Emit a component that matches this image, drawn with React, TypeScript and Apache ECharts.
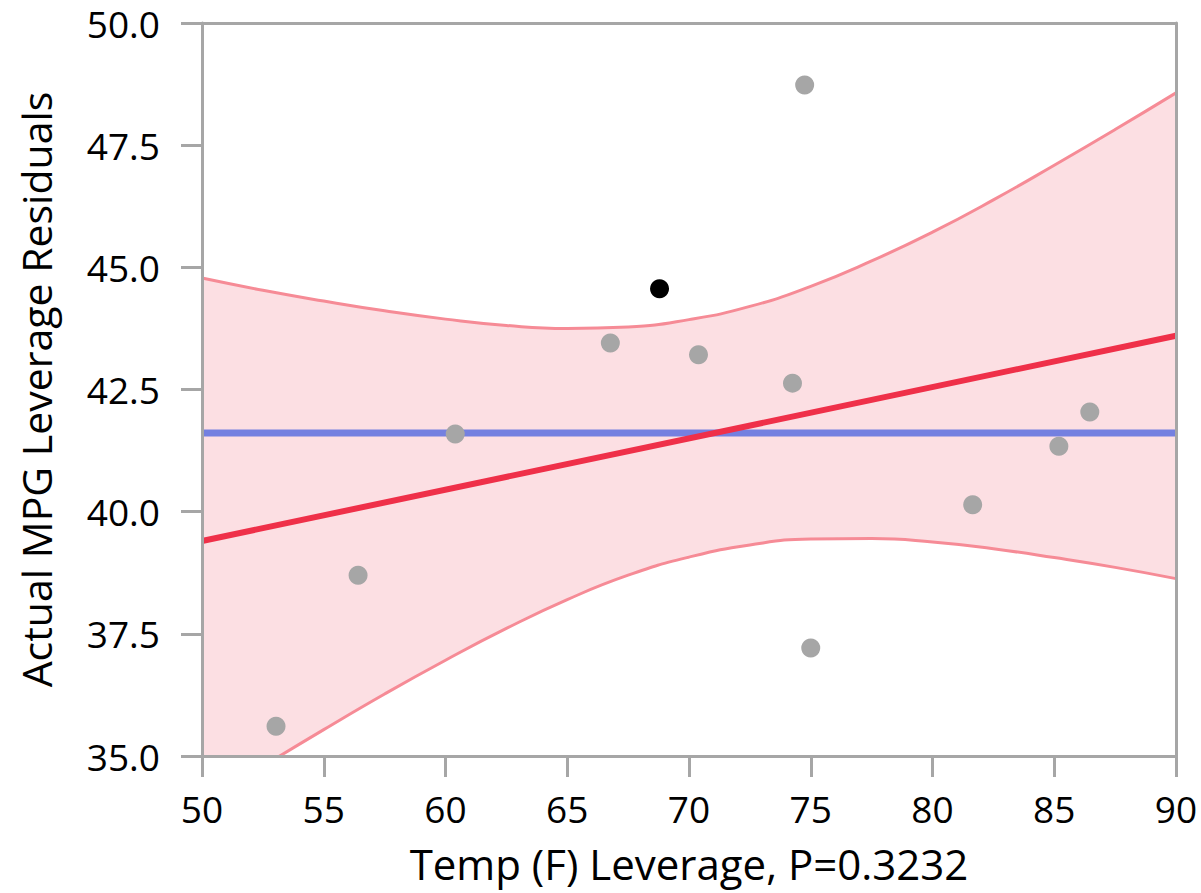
import React, { useEffect, useRef } from "react";
import * as echarts from "echarts";

// Leverage points (x = Temp leverage, y = MPG leverage residuals)
const pointsX = [53.04, 56.41, 60.40, 66.77, 70.39, 74.25, 74.75, 75.0, 81.65, 85.19, 86.46];
const pointsY = [35.61, 38.70, 41.59, 43.45, 43.21, 42.63, 48.73, 37.21, 40.14, 41.34, 42.04];
const highlightX = [68.79];
const highlightY = [44.56];

// Mean line and fit line
const meanY = 41.61;
const fitX = [50, 90];
const fitY = [39.40, 43.60];

// Confidence band readings
const bandX = [50, 52.5, 55, 57.5, 60, 62.5, 65, 67.5, 70, 72.5, 75, 77.5, 80, 82.5, 85, 87.5, 90];
const bandUpper = [44.78, 44.53, 44.31, 44.11, 43.94, 43.81, 43.75, 43.78, 43.93, 44.20, 44.61, 45.13, 45.72, 46.38, 47.09, 47.82, 48.57];
const bandLower = [34.02, 34.79, 35.54, 36.27, 36.96, 37.61, 38.20, 38.70, 39.07, 39.32, 39.44, 39.45, 39.38, 39.24, 39.06, 38.86, 38.63];

const xTicks = [50, 55, 60, 65, 70, 75, 80, 85, 90];
const yTicks = [35, 37.5, 40, 42.5, 45, 47.5, 50];

const xTitle = "Temp (F) Leverage, P=0.3232";
const yTitle = "Actual MPG Leverage Residuals";

export default function App() {
  const ref = useRef<HTMLDivElement>(null);
  useEffect(() => {
    if (!ref.current) return;
    const chart = echarts.init(ref.current, undefined, { renderer: "svg" });
    const font = "'Open Sans', 'Noto Sans', sans-serif";
    const axisColor = "#a6a6a6";
    const xMin = xTicks[0];
    const xMax = xTicks[xTicks.length - 1];
    const yMin = yTicks[0];
    const yMax = yTicks[yTicks.length - 1];
    const frameAxis = {
      type: "value",
      axisLine: { show: true, onZero: false, lineStyle: { color: axisColor, width: 3 } },
      axisTick: { show: false },
      axisLabel: { show: false },
      splitLine: { show: false },
      z: 10,
    };
    const option = {
      animation: false,
      grid: {
        left: 202,
        right: 25,
        top: 23,
        bottom: 137,
      },
      xAxis: [
        {
          type: "value",
          min: xMin,
          max: xMax,
          interval: 5,
          name: xTitle,
          nameLocation: "middle",
          nameGap: 86,
          nameTextStyle: { fontFamily: font, fontSize: 42, color: "#000" },
          axisLine: { show: true, onZero: false, lineStyle: { color: axisColor, width: 3 } },
          axisTick: { show: true, inside: false, length: 21, lineStyle: { color: axisColor, width: 3 } },
          axisLabel: { fontFamily: font, fontSize: 37, color: "#000", margin: 34 },
          splitLine: { show: false },
          z: 10,
        },
        { ...frameAxis, position: "top", min: xMin, max: xMax, interval: 5 },
      ],
      yAxis: [
        {
          type: "value",
          min: yMin,
          max: yMax,
          interval: 2.5,
          name: yTitle,
          nameLocation: "middle",
          nameGap: 146,
          nameTextStyle: { fontFamily: font, fontSize: 41, color: "#000" },
          axisLine: { show: true, onZero: false, lineStyle: { color: axisColor, width: 3 } },
          axisTick: { show: true, inside: false, length: 21, lineStyle: { color: axisColor, width: 3 } },
          axisLabel: {
            fontFamily: font,
            fontSize: 37,
            lineHeight: 30,
            color: "#000",
            margin: 42,
            formatter: (v: number) => v.toFixed(1),
          },
          splitLine: { show: false },
          z: 10,
        },
        { ...frameAxis, position: "right", min: yMin, max: yMax, interval: 2.5 },
      ],
      series: [
        {
          type: "line",
          data: bandX.map((x, i) => [x, bandUpper[i]]),
          smooth: true,
          symbol: "none",
          lineStyle: { color: "#f68b96", width: 3 },
          areaStyle: { color: "#fcdfe3", opacity: 1, origin: "start" },
          z: 1,
          silent: true,
        },
        {
          type: "line",
          data: bandX.map((x, i) => [x, bandLower[i]]),
          smooth: true,
          symbol: "none",
          lineStyle: { color: "#f68b96", width: 3 },
          areaStyle: { color: "#ffffff", opacity: 1, origin: "start" },
          z: 2,
          silent: true,
        },
        {
          type: "line",
          data: [[xMin, meanY], [xMax, meanY]],
          symbol: "none",
          lineStyle: { color: "#7480e0", width: 7 },
          z: 3,
        },
        {
          type: "line",
          data: fitX.map((x, i) => [x, fitY[i]]),
          symbol: "none",
          lineStyle: { color: "#ef3049", width: 6 },
          z: 4,
        },
        {
          type: "scatter",
          data: pointsX.map((x, i) => [x, pointsY[i]]),
          symbolSize: 19,
          itemStyle: { color: "#a6a6a6", opacity: 1 },
          z: 5,
        },
        {
          type: "scatter",
          data: highlightX.map((x, i) => [x, highlightY[i]]),
          symbolSize: 19,
          itemStyle: { color: "#000000", opacity: 1 },
          z: 5,
        },
      ],
    };
    chart.setOption(option);
    return () => chart.dispose();
  }, []);
  return (
    <div
      ref={ref}
      style={{ position: "absolute", left: 0, top: 0, width: 1201, height: 893, background: "#fff" }}
    />
  );
}
